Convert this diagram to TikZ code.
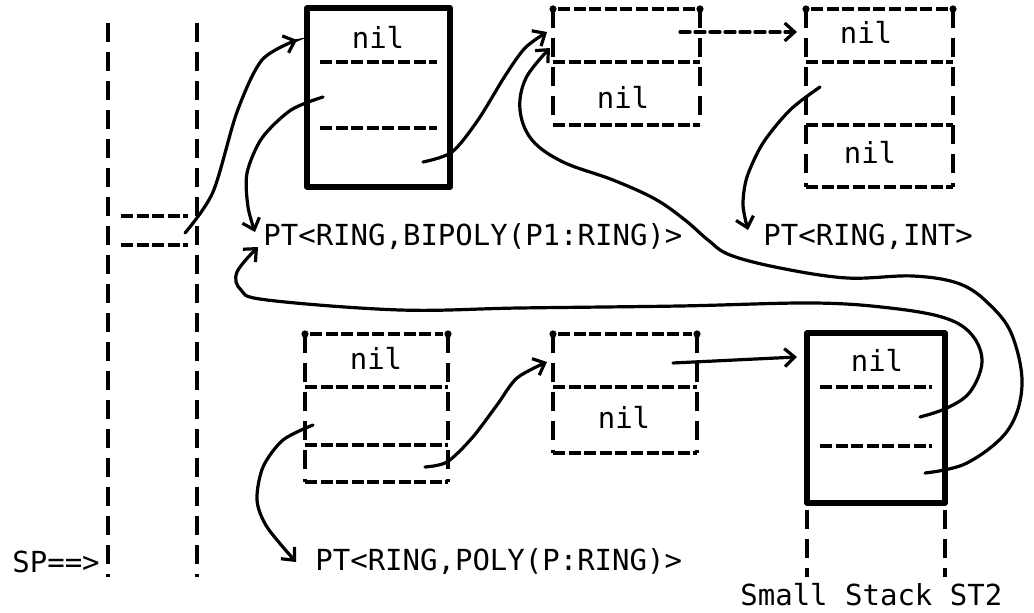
\documentclass[tikz,border=0pt]{standalone}
\usepackage{fontspec}
\setmonofont{DejaVu Sans Mono}
\usetikzlibrary{arrows.meta}

\begin{document}
\begin{tikzpicture}[x=0.5pt,y=-0.5pt,
  vline/.style={line width=1.9pt,dash pattern=on 9.5pt off 5pt},
  hline/.style={line width=1.9pt,dash pattern=on 6pt off 1.8pt},
  heavy/.style={line width=2.6pt,line join=round},
  ptr/.style={line width=1.6pt,line cap=round,-{Straight Barb[length=5pt,width=9pt,line width=1.6pt]}},
  tt/.style={font=\ttfamily\fontsize{14.5}{16}\selectfont,inner sep=0pt},
  cdot/.style={circle,fill,inner sep=0pt,minimum size=3.6pt}]
\useasboundingbox (0,0) rectangle (1034,613);
\fill[white] (0,0) rectangle (1034,613);

% the big stack on the left
\draw[vline] (108,23) -- (108,577);
\draw[vline] (197,23) -- (197,577);
\draw[hline] (121,216) -- (188,216);
\draw[hline] (121,245) -- (188,245);
\node[tt,anchor=west] (sp) at (12,562) {SP==>};

% heavy boxes
\foreach \n/\l/\t/\r/\b/\sa/\sb in {b1/307/8/450/187/62/128, st/807/333/945/503/387/446}
{ \draw[heavy] (\l,\t) rectangle (\r,\b);
  \draw[hline] (\l+13,\sa) -- (\r-13,\sa);
  \draw[hline] (\l+13,\sb) -- (\r-13,\sb); }
\draw[vline] (807,510) -- (807,577);
\draw[vline] (945,510) -- (945,577);

% dashed records
\foreach \n/\l/\t/\r/\b/\seps in {b2/553/9/700/125/{62}, b3/806/9/953/187/{62,125},
  b4/305/334/448/482/{387,445}, b5/553/334/697/453/{387}}
{ \draw[vline] (\l,\t) -- (\l,\b);
  \draw[vline] (\r,\t) -- (\r,\b);
  \draw[hline] (\l+5,\t) -- (\r-5,\t);
  \draw[hline] (\l,\b) -- (\r,\b);
  \foreach \s in \seps {\draw[hline] (\l,\s) -- (\r,\s);}
  \node[cdot] (\n tl) at (\l,\t) {};
  \node[cdot] (\n tr) at (\r,\t) {}; }

\node[tt] (b1nil) at (378,37) {nil};
\node[tt] (b2nil) at (623,97) {nil};
\node[tt] (b3nila) at (866,32) {nil};
\node[tt] (b3nilb) at (870,152) {nil};
\node[tt] (b4nil) at (376,358) {nil};
\node[tt] (b5nil) at (624,417) {nil};
\node[tt] (stnil) at (877,360) {nil};

\node[tt,anchor=west] (bipoly) at (263,237) {PT<RING,BIPOLY(P1:RING)>};
\node[tt,anchor=west] (ptint) at (763,237) {PT<RING,INT>};
\node[tt,anchor=west] (poly) at (315,562) {PT<RING,POLY(P:RING)>};
\node[tt,anchor=west] (stname) at (740,595) {Small Stack ST2};

% pointer ends
\coordinate (stk) at (185,233);
\coordinate (b1in) at (297,40);
\coordinate (b1b) at (323,97);
\coordinate (b1c) at (423,162);
\coordinate (b2ina) at (547,32);
\coordinate (b2inb) at (550,48);
\coordinate (b2a) at (680,32);
\coordinate (b3in) at (797,32);
\coordinate (b3b) at (820,87);
\coordinate (b4b) at (313,425);
\coordinate (b4c) at (425,467);
\coordinate (b5in) at (547,362);
\coordinate (b5a) at (673,363);
\coordinate (stin) at (797,357);
\coordinate (stb) at (920,417);
\coordinate (stc) at (925,473);

\draw[ptr] plot[smooth] coordinates {(stk) (213,192) (237,112) (262,60) (b1in)};
\draw[ptr] plot[smooth] coordinates {(b1b) (291,110) (262,138) (247,173) (248,207) (255,232)};
\draw[ptr] plot[smooth] coordinates {(b1c) (452,152) (478,120) (505,76) (525,48) (b2ina)};
\draw[ptr,dash pattern=on 5pt off 2.5pt] (b2a) -- (b3in);
\draw[ptr] plot[smooth] coordinates {(b3b) (790,110) (763,143) (747,177) (743,205) (748,230)};
\draw[ptr] plot[smooth] coordinates {(b4b) (283,440) (263,467) (257,500) (267,527) (296,562)};
\draw[ptr] plot[smooth] coordinates {(b4c) (447,462) (472,438) (497,405) (517,378) (b5in)};
\draw[ptr] (b5a) -- (stin);
\draw[ptr] plot[smooth,tension=0.6] coordinates {(stc) (967,463) (1008,430) (1022,385)
  (1012,335) (990,305) (960,284) (913,276) (847,278) (780,268) (730,255) (708,240)
  (685,220) (655,199) (613,180) (563,162) (532,140) (520,110) (526,78) (b2inb)};
\draw[ptr] plot[smooth,tension=0.6] coordinates {(stb) (947,408) (970,392) (982,362)
  (972,335) (945,318) (890,308) (813,303) (680,306) (520,308) (400,310) (267,300)
  (241,290) (237,272) (258,247)};
\end{tikzpicture}
\end{document}
